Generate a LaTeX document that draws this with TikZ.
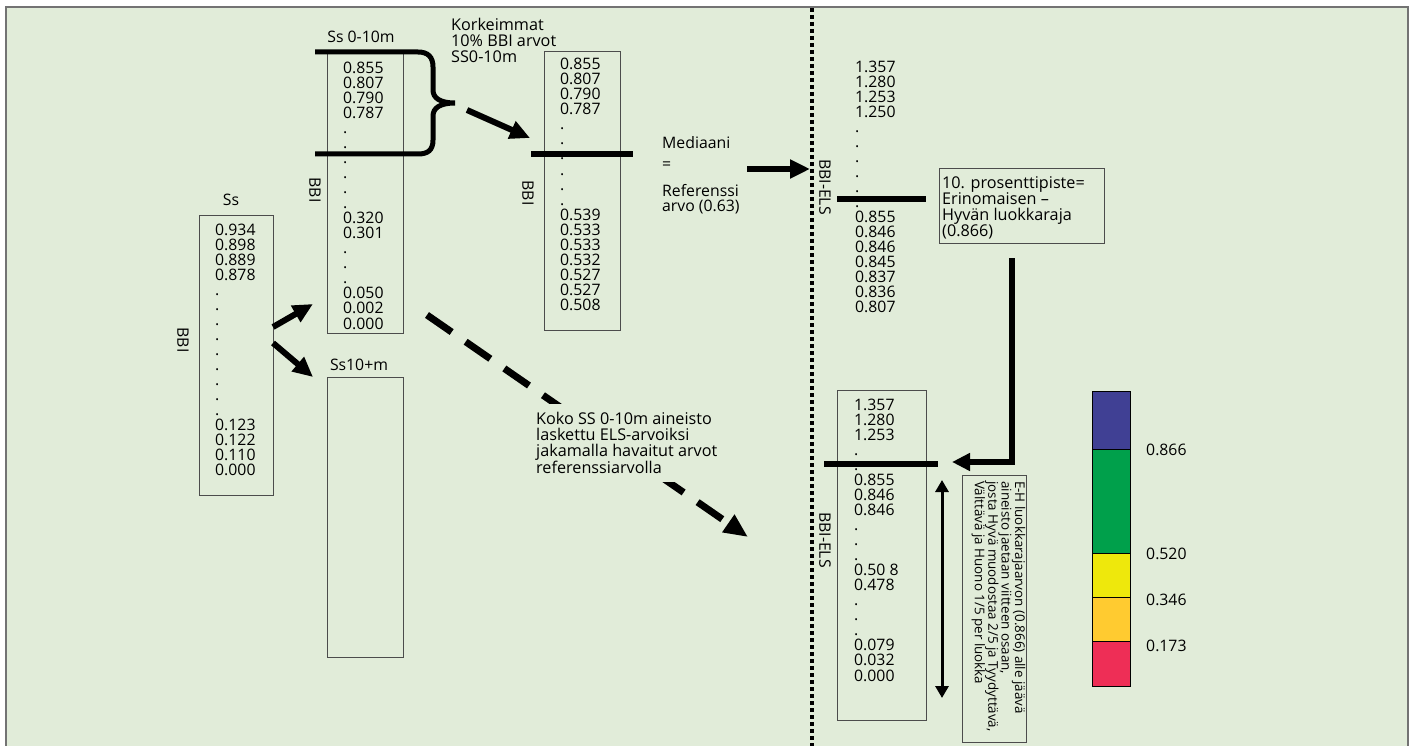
\documentclass[tikz,border=0pt]{standalone}
\usepackage{fontspec}
\setmainfont{Open Sans}
\usetikzlibrary{arrows.meta}
\definecolor{bg}{RGB}{225,236,217}
\definecolor{cblue}{RGB}{64,64,148}
\definecolor{cgreen}{RGB}{0,160,75}
\definecolor{cyellow}{RGB}{238,232,12}
\definecolor{corange}{RGB}{255,203,48}
\definecolor{cred}{RGB}{238,46,86}
\newcommand\nf{\fontsize{15.8}{15.05}\selectfont}
\newcommand\nfb{\fontsize{16.2}{16}\selectfont}
\newcommand\nfs{\fontsize{13.4}{13.4}\selectfont}
\begin{document}
\begin{tikzpicture}[x=1pt,y=-1pt,
  box/.style={draw=black!70,line width=0.9pt,inner sep=0,anchor=north west},
  vals/.style={anchor=north west,inner sep=0,align=left,font=\nf},
  lbl/.style={inner sep=0,font=\nf},
  bar/.style={line width=5.5pt},
  fat/.style={line width=6pt,-{Triangle[length=20pt,width=18pt]}},
  cell/.style={draw=black,line width=0.8pt},
]
\useasboundingbox (0,0) rectangle (1413,746);
\fill[white] (0,0) rectangle (1413,746);
\draw[fill=bg,draw=black!55,line width=1.5pt] (6,7) rectangle (1408,760);
\draw[line width=4pt,dash pattern=on 4pt off 3pt] (812,8) -- (812,746);

% boxes
\node[box,minimum width=74pt,minimum height=280pt] (ssbox) at (199,215) {};
\node[box,minimum width=76pt,minimum height=281pt] (s010box) at (327,52) {};
\node[box,minimum width=76pt,minimum height=280pt] (s10box) at (327,377) {};
\node[box,minimum width=76pt,minimum height=279pt] (medbox) at (544,51) {};
\node[box,minimum width=89pt,minimum height=330pt] (elsbox) at (837,390) {};
\node[box,minimum width=165pt,minimum height=75pt] (pbox) at (939,168) {};
\node[box,minimum width=64pt,minimum height=267pt] (vbox) at (962,475) {};

% value lists
\node[vals] (ssvals) at (215,223.5) {0.934\\0.898\\0.889\\0.878\\.\\.\\.\\.\\.\\.\\.\\.\\.\\0.123\\0.122\\0.110\\0.000};
\node[vals] (s010vals) at (343,61.5) {0.855\\0.807\\0.790\\0.787\\.\\.\\.\\.\\.\\.\\0.320\\0.301\\.\\.\\.\\0.050\\0.002\\0.000};
\node[vals] (medvals) at (560,58) {0.855\\0.807\\0.790\\0.787\\.\\.\\.\\.\\.\\.\\0.539\\0.533\\0.533\\0.532\\0.527\\0.527\\0.508};
\node[vals] (elsvals) at (855,60.5) {1.357\\1.280\\1.253\\1.250\\.\\.\\.\\.\\.\\.\\0.855\\0.846\\0.846\\0.845\\0.837\\0.836\\0.807};
\node[vals] (els2vals) at (854,398.5) {1.357\\1.280\\1.253\\.\\.\\0.855\\0.846\\0.846\\.\\.\\.\\0.50 8\\0.478\\.\\.\\.\\0.079\\0.032\\0.000};

% labels
\node[lbl] (sslab) at (231,200) {Ss};
\node[lbl] (s010lab) at (361,37) {Ss 0-10m};
\node[lbl] (s10lab) at (359,365) {Ss10+m};
\node[lbl,rotate=-90] (bbi1) at (183,340) {BBI};
\node[lbl,rotate=-90] (bbi2) at (315,190) {BBI};
\node[lbl,rotate=-90] (bbi3) at (528,193) {BBI};
\node[lbl,rotate=-90] (bbiels1) at (825,187) {BBI-ELS};
\node[lbl,rotate=-90] (bbiels2) at (825,540) {BBI-ELS};
\node[vals,font=\nfb] (kork) at (451,18) {Korkeimmat\\10\% BBI arvot\\SS0-10m};
\node[lbl,anchor=base west] (med1) at (662,148.5) {Mediaani};
\node[lbl,anchor=base west] (med2) at (662,170) {=};
\node[vals] (med3) at (662,184.5) {Referenssi\\arvo (0.63)};
\node[vals,font=\nfb] (ptext) at (942,176) {10. prosenttipiste=\\Erinomaisen –\\Hyvän luokkaraja\\(0.866)};

% bars and brace
\draw[line width=5pt] (315,52) -- (418,52) .. controls (428,52) and (433,57) .. (433,67) -- (433,90)
  .. controls (433,98) and (440,103) .. (455,103) .. controls (440,103) and (433,108) .. (433,116)
  -- (433,140) .. controls (433,150) and (428,154) .. (418,154) -- (315,154);
\draw[bar] (531,154) -- (633,154);
\draw[bar] (837,199) -- (926,199);
\draw[bar] (824,464) -- (938,464);

% arrows
\coordinate (up1) at (273,327);
\coordinate (dn1) at (273,343);
\draw[fat] (up1) -- (313,304);
\draw[fat] (dn1) -- (313,377);
\coordinate (br) at (467,110);
\draw[fat] (br) -- (530,138);
\coordinate (ma) at (747,169);
\draw[fat] (ma) -- (810,169);
\coordinate (ds) at (427,315);
\coordinate (de) at (748,537);
\draw[line width=7pt,dash pattern=on 30pt off 17pt,-{Triangle[length=24pt,width=20pt]}] (ds) -- (de);
\node[anchor=north west,fill=bg,inner xsep=4pt,inner ysep=8pt,align=left,font=\nfb] (koko) at (532,404)
  {Koko SS 0-10m aineisto\\laskettu ELS-arvoiksi\\jakamalla havaitut arvot\\referenssiarvolla};
\coordinate (el) at (1012,258);
\draw[line width=6pt,-{Triangle[length=18pt,width=17pt]}] (el) -- (1012,462) -- (952,462);
\coordinate (dbt) at (942,480);
\coordinate (dbb) at (942,698);
\draw[line width=3pt,{Triangle[length=12pt,width=13pt]}-{Triangle[length=12pt,width=13pt]}] (dbt) -- (dbb);

% vertical text
\node[anchor=north west,inner sep=0,align=left,font=\nfs,rotate=-90] (vtext) at (1025.5,481)
  {E-H luokkarajaarvon (0.866) alle jäävä\\aineisto jaetaan viitteen osaan,\\josta Hyvä muodostaa 2/5 ja Tyydyttävä,\\Välttävä ja Huono 1/5 per luokka};

% colour bar
\filldraw[cell,fill=cblue] (1092,391) rectangle (1130,449);
\filldraw[cell,fill=cgreen] (1092,449) rectangle (1130,553);
\filldraw[cell,fill=cyellow] (1092,553) rectangle (1130,597);
\filldraw[cell,fill=corange] (1092,597) rectangle (1130,641);
\filldraw[cell,fill=cred] (1092,641) rectangle (1130,686);
\node[lbl,anchor=base west] (c1) at (1146,455) {0.866};
\node[lbl,anchor=base west] (c2) at (1146,559) {0.520};
\node[lbl,anchor=base west] (c3) at (1146,605) {0.346};
\node[lbl,anchor=base west] (c4) at (1146,651) {0.173};
\end{tikzpicture}
\end{document}
